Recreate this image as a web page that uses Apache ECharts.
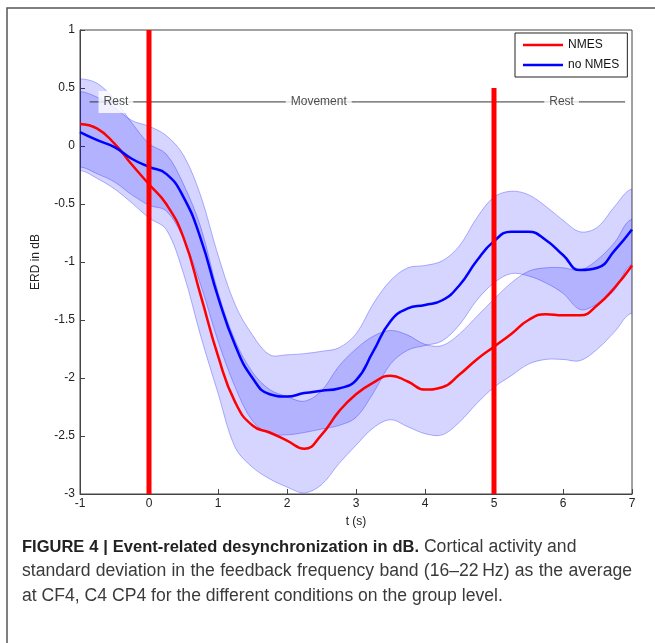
<!DOCTYPE html>
<html>
<head>
<meta charset="utf-8">
<script src="https://cdn.jsdelivr.net/npm/echarts@6/dist/echarts.min.js"></script>
<style>
  html, body { margin: 0; padding: 0; background: #fff; }
  #chart { width: 655px; height: 643px; }
</style>
</head>
<body>
<div id="chart"></div>
<script>
// time base, seconds
var times = [-1, -0.75, -0.5, -0.25, 0, 0.25, 0.5, 0.75, 1, 1.25, 1.5, 1.75, 2, 2.25, 2.5, 2.75,
  3, 3.25, 3.5, 3.75, 4, 4.25, 4.5, 4.75, 5, 5.25, 5.5, 5.75, 6, 6.25, 6.5, 6.75, 7]

// NMES (red) mean and band
var nmesMean = [0.19, 0.15, 0.02, -0.16, -0.33, -0.50, -0.79, -1.29, -1.81, -2.21, -2.41, -2.47, -2.54, -2.61, -2.49, -2.29,
  -2.14, -2.04, -1.98, -2.03, -2.10, -2.08, -1.97, -1.84, -1.73, -1.62, -1.50, -1.45, -1.46, -1.46, -1.37, -1.22, -1.03]
var nmesUpper = [0.58, 0.54, 0.40, 0.20, 0.02, -0.07, -0.33, -0.70, -1.26, -1.68, -1.95, -2.10, -2.16, -2.20, -2.11, -1.90,
  -1.75, -1.64, -1.59, -1.63, -1.71, -1.72, -1.62, -1.47, -1.32, -1.18, -1.08, -1.05, -1.05, -1.07, -0.98, -0.83, -0.63]
var nmesLower = [-0.21, -0.28, -0.37, -0.49, -0.62, -0.72, -1.10, -1.64, -2.13, -2.60, -2.77, -2.87, -2.94, -2.99, -2.92, -2.74,
  -2.58, -2.43, -2.36, -2.42, -2.48, -2.49, -2.38, -2.22, -2.08, -1.98, -1.88, -1.84, -1.84, -1.85, -1.75, -1.60, -1.44]

// no NMES (blue) mean and band
var noNmesMean = [0.12, 0.05, -0.01, -0.11, -0.18, -0.24, -0.44, -0.80, -1.30, -1.72, -2.00, -2.14, -2.16, -2.13, -2.11, -2.09,
  -2.02, -1.77, -1.51, -1.40, -1.37, -1.33, -1.20, -0.99, -0.82, -0.74, -0.74, -0.81, -0.94, -1.07, -1.05, -0.90, -0.72]
var noNmesUpper = [0.47, 0.42, 0.33, 0.22, 0.17, 0.09, -0.08, -0.43, -0.94, -1.37, -1.63, -1.80, -1.80, -1.79, -1.77, -1.74,
  -1.62, -1.36, -1.16, -1.05, -1.03, -0.99, -0.86, -0.62, -0.44, -0.39, -0.42, -0.52, -0.64, -0.74, -0.70, -0.52, -0.37]
var noNmesLower = [-0.18, -0.24, -0.31, -0.42, -0.51, -0.56, -0.80, -1.20, -1.68, -2.08, -2.37, -2.48, -2.49, -2.47, -2.44, -2.41,
  -2.34, -2.13, -1.88, -1.76, -1.72, -1.68, -1.54, -1.33, -1.18, -1.10, -1.12, -1.18, -1.27, -1.41, -1.36, -1.24, -1.02]

// cue markers (movement start / end)
var cueTimes = [0, 5]
var cueTops = [1, 0.5]

// phase annotation
var phaseNames = ['Rest', 'Movement', 'Rest']
var phaseTimes = [-0.48, 2.46, 5.98]
var phaseLevel = 0.38
var phaseSpan = [-0.86, 6.9]

var xTicks = { min: -1, max: 7, step: 1 }
var yTicks = { min: -3, max: 1, step: 0.5 }

// caption, line by line: [text, bold]; justify flag per line
var captionLines = [
  [['FIGURE 4 | Event-related desynchronization in dB.', true], ['Cortical activity and', false]],
  [['standard deviation in the feedback frequency band (16\u201322\u2009Hz) as the average', false]],
  [['at CF4, C4 CP4 for the different conditions on the group level.', false]]
]
var captionJustify = [false, true, false]

var bandFill = 'rgba(0,0,255,0.165)'
var bandEdge = 'rgba(40,40,255,0.35)'
var FONT = 'Liberation Sans, Arial, sans-serif'
var capRegular = '17.6px ' + FONT
var capBold = 'bold 16.5px ' + FONT

function pairs(ys) {
  return times.map(function (t, i) { return [t, ys[i]] })
}

// shaded +-sd band drawn as one smoothed polygon, edges as polylines
function bandSeries(key, lo, hi) {
  return {
    name: key,
    type: 'custom',
    clip: true,
    silent: true,
    z: 1,
    data: times.map(function (t, i) { return [t, lo[i], hi[i]] }),
    encode: { x: 0, y: [1, 2] },
    renderItem: function (params, api) {
      if (params.dataIndex !== 0) return null
      var up = [], dn = []
      times.forEach(function (t, i) {
        up.push(api.coord([t, hi[i]]))
        dn.push(api.coord([t, lo[i]]))
      })
      var ext = 40
      up.unshift([up[0][0] - ext, up[0][1]])
      up.push([up[up.length - 1][0] + ext, up[up.length - 1][1]])
      dn.unshift([dn[0][0] - ext, dn[0][1]])
      dn.push([dn[dn.length - 1][0] + ext, dn[dn.length - 1][1]])
      var ring = up.concat(dn.slice().reverse())
      return {
        type: 'group',
        children: [
          { type: 'polygon', shape: { points: ring, smooth: 0.35 }, style: { fill: bandFill, stroke: null } },
          { type: 'polyline', shape: { points: up, smooth: 0.35 }, style: { stroke: bandEdge, lineWidth: 1, fill: null } },
          { type: 'polyline', shape: { points: dn, smooth: 0.35 }, style: { stroke: bandEdge, lineWidth: 1, fill: null } }
        ]
      }
    }
  }
}

// caption: every word is its own text element so a line can be justified
var measureCtx = document.createElement('canvas').getContext('2d')
function textWidth(s, font) {
  measureCtx.font = font
  return measureCtx.measureText(s).width
}
function captionGraphics(lines, left, right, top, lineGap) {
  var out = []
  lines.forEach(function (parts, li) {
    var words = []
    parts.forEach(function (p) {
      p[0].split(' ').forEach(function (w) { words.push({ w: w, bold: p[1] }) })
    })
    var total = 0
    words.forEach(function (o) {
      o.font = o.bold ? capBold : capRegular
      o.width = textWidth(o.w, o.font)
      total += o.width
    })
    var gap = captionJustify[li] ? (right - left - total) / (words.length - 1) : textWidth(' ', capRegular)
    var x = left
    words.forEach(function (o) {
      out.push({
        type: 'text', silent: true, x: x, y: top + li * lineGap,
        style: { text: o.w, font: o.font, fill: o.bold ? '#222' : '#3a3a3a', textVerticalAlign: 'middle' }
      })
      x += o.width + gap
    })
  })
  return out
}

var chart = echarts.init(document.getElementById('chart'))

var series = []
series.push(bandSeries('nmesBand', nmesLower, nmesUpper))
series.push(bandSeries('noNmesBand', noNmesLower, noNmesUpper))

series.push({
  name: 'NMES',
  type: 'line',
  data: pairs(nmesMean),
  smooth: 0.5,
  symbol: 'none',
  z: 3,
  lineStyle: { color: '#ff0000', width: 2.5 },
  itemStyle: { color: '#ff0000' }
})
series.push({
  name: 'no NMES',
  type: 'line',
  data: pairs(noNmesMean),
  smooth: 0.5,
  symbol: 'none',
  z: 3,
  lineStyle: { color: '#0000ff', width: 2.5 },
  itemStyle: { color: '#0000ff' }
})

// horizontal phase line and labels
series.push({
  name: 'phase',
  type: 'line',
  data: [[phaseSpan[0], phaseLevel], [phaseSpan[1], phaseLevel]],
  symbol: 'none',
  silent: true,
  z: 4,
  lineStyle: { color: '#333', width: 1 }
})
series.push({
  name: 'phaseLabels',
  type: 'scatter',
  data: phaseTimes.map(function (t, i) { return [t, phaseLevel, phaseNames[i]] }),
  symbolSize: 2,
  silent: true,
  z: 5,
  itemStyle: { color: 'rgba(0,0,0,0)' },
  label: {
    show: true,
    position: 'inside',
    formatter: function (p) { return p.data[2] },
    color: '#222',
    fontSize: 12,
    fontFamily: FONT,
    backgroundColor: '#fff',
    padding: [5, 5]
  }
})

// red cue lines
cueTimes.forEach(function (t, i) {
  series.push({
    name: 'cue' + i,
    type: 'line',
    data: [[t, yTicks.min], [t, cueTops[i]]],
    symbol: 'none',
    silent: true,
    z: 6,
    lineStyle: { color: '#ff0000', width: 5 }
  })
})

var axisFont = { color: '#222', fontSize: 12, fontFamily: FONT }
var lineIcon = 'path://M0,0 L40,0 L40,2.5 L0,2.5 Z'

var graphics = [
  // figure frame (top and left edges)
  { type: 'polyline', silent: true, shape: { points: [[7, 643], [7, 8], [655, 8]] }, style: { stroke: '#555', lineWidth: 1.5, fill: null } }
].concat(captionGraphics(captionLines, 22, 632, 547, 24.5))

var option = {
  animation: false,
  backgroundColor: '#fff',
  grid: {
    left: 80, top: 30, right: 23, bottom: 149,
    show: true,
    borderColor: '#444',
    borderWidth: 1,
    backgroundColor: '#fff'
  },
  legend: {
    data: [{ name: 'NMES', icon: lineIcon }, { name: 'no NMES', icon: lineIcon }],
    orient: 'vertical',
    left: 515,
    top: 33,
    itemWidth: 40,
    itemHeight: 2.5,
    itemGap: 8,
    padding: [6, 8, 6, 8],
    borderColor: '#222',
    borderWidth: 1,
    backgroundColor: '#fff',
    textStyle: { color: '#111', fontSize: 12, fontFamily: FONT }
  },
  xAxis: {
    type: 'value',
    min: xTicks.min,
    max: xTicks.max,
    interval: xTicks.step,
    name: 't (s)',
    nameLocation: 'middle',
    nameGap: 22,
    nameTextStyle: axisFont,
    axisLine: { show: true, onZero: false, lineStyle: { color: '#444' } },
    axisTick: { show: true, inside: true, length: 5, lineStyle: { color: '#444' } },
    axisLabel: Object.assign({ margin: 4 }, axisFont),
    splitLine: { show: false }
  },
  yAxis: {
    type: 'value',
    min: yTicks.min,
    max: yTicks.max,
    interval: yTicks.step,
    name: 'ERD in dB',
    nameLocation: 'middle',
    nameGap: 38,
    nameTextStyle: axisFont,
    axisLine: { show: true, onZero: false, lineStyle: { color: '#444' } },
    axisTick: { show: true, inside: true, length: 5, lineStyle: { color: '#444' } },
    axisLabel: Object.assign({ margin: 5 }, axisFont),
    splitLine: { show: false }
  },
  series: series,
  graphic: graphics
}

chart.setOption(option)
</script>
</body>
</html>
